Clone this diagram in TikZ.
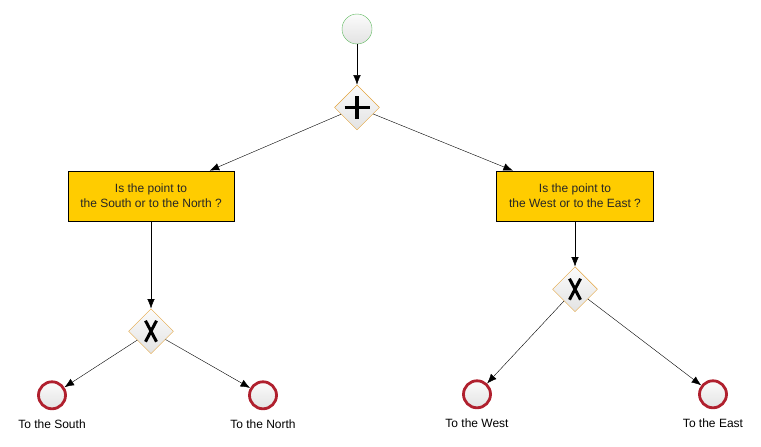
\documentclass[tikz,border=0pt]{standalone}
\usepackage{fontspec}
\setmainfont{Liberation Sans}
\usetikzlibrary{shapes,arrows.meta,positioning}
\definecolor{startgreen}{HTML}{5CB85C}
\definecolor{endred}{HTML}{B0202E}
\definecolor{gateorange}{HTML}{E3A33B}
\definecolor{taskyellow}{HTML}{FFCC00}
\tikzset{
    -{Latex[length=9.5pt,width=7.5pt]},auto,line width=0.9pt,
    font=\fontsize{12}{14.5}\selectfont,
    startevent/.style ={circle, draw=startgreen, top color=gray!3, bottom color=gray!22, minimum size=30pt, inner sep=0pt},
    endevent/.style ={circle, draw=endred, line width=2.8pt, top color=gray!3, bottom color=gray!22, minimum size=27pt, inner sep=0pt},
    gateway/.style = {diamond, draw=gateorange, top color=gray!3, bottom color=gray!22, minimum size=45pt, inner sep=0pt},
    andgate/.style = {gateway, path picture={
        \draw[-, black, line width=3.2pt] ([xshift=-12.5pt]path picture bounding box.center) -- ([xshift=12.5pt]path picture bounding box.center);
        \draw[-, black, line width=3.2pt] ([yshift=-11.5pt]path picture bounding box.center) -- ([yshift=11.5pt]path picture bounding box.center);}},
    xorgate/.style = {gateway, path picture={
        \draw[-, black, line width=3pt] ([shift={(-5.5pt,-10.5pt)}]path picture bounding box.center) -- ([shift={(5.5pt,10.5pt)}]path picture bounding box.center);
        \draw[-, black, line width=3pt] ([shift={(-5.5pt,10.5pt)}]path picture bounding box.center) -- ([shift={(5.5pt,-10.5pt)}]path picture bounding box.center);}},
    task/.style = {rectangle, draw=black, fill=taskyellow, text=black!85, align=center, minimum height=50pt, inner xsep=12.5pt},
    endlabel/.style = {inner sep=0pt}
}
\begin{document}
\begin{tikzpicture}[x=1pt,y=-1pt]
    \useasboundingbox (0,0) rectangle (761,447);
    \node[startevent] (start) at (357,29) {};
    \node[andgate] (fork) [below=40.5pt of start] {};
    \node[task] (asksn) [below=40.5pt of fork, xshift=-206pt] {Is the point to\\the South or to the North ?};
    \node[task] (askwe) [below=40.5pt of fork, xshift=218pt] {Is the point to\\the West or to the East ?};
    \node[xorgate] (xorsn) [below=87.5pt of asksn] {};
    \node[xorgate] (xorwe) [below=45.5pt of askwe] {};
    \node[endevent] (south) [below=26.5pt of xorsn, xshift=-99pt] {};
    \node[endevent] (north) [below=26.5pt of xorsn, xshift=112pt] {};
    \node[endevent] (west) [below=67.5pt of xorwe, xshift=-98pt] {};
    \node[endevent] (east) [below=67.5pt of xorwe, xshift=138pt] {};
    \node[endlabel] (southtxt) [below=9pt of south] {To the South};
    \node[endlabel] (northtxt) [below=9pt of north] {To the North};
    \node[endlabel] (westtxt) [below=9pt of west] {To the West};
    \node[endlabel] (easttxt) [below=9pt of east] {To the East};

    \path (start) edge (fork);
    \path (fork) edge (asksn);
    \path (fork) edge (askwe);
    \path (asksn) edge (xorsn);
    \path (askwe) edge (xorwe);
    \path (xorsn) edge (south);
    \path (xorsn) edge (north);
    \path (xorwe) edge (west);
    \path (xorwe) edge (east);
\end{tikzpicture}
\end{document}
